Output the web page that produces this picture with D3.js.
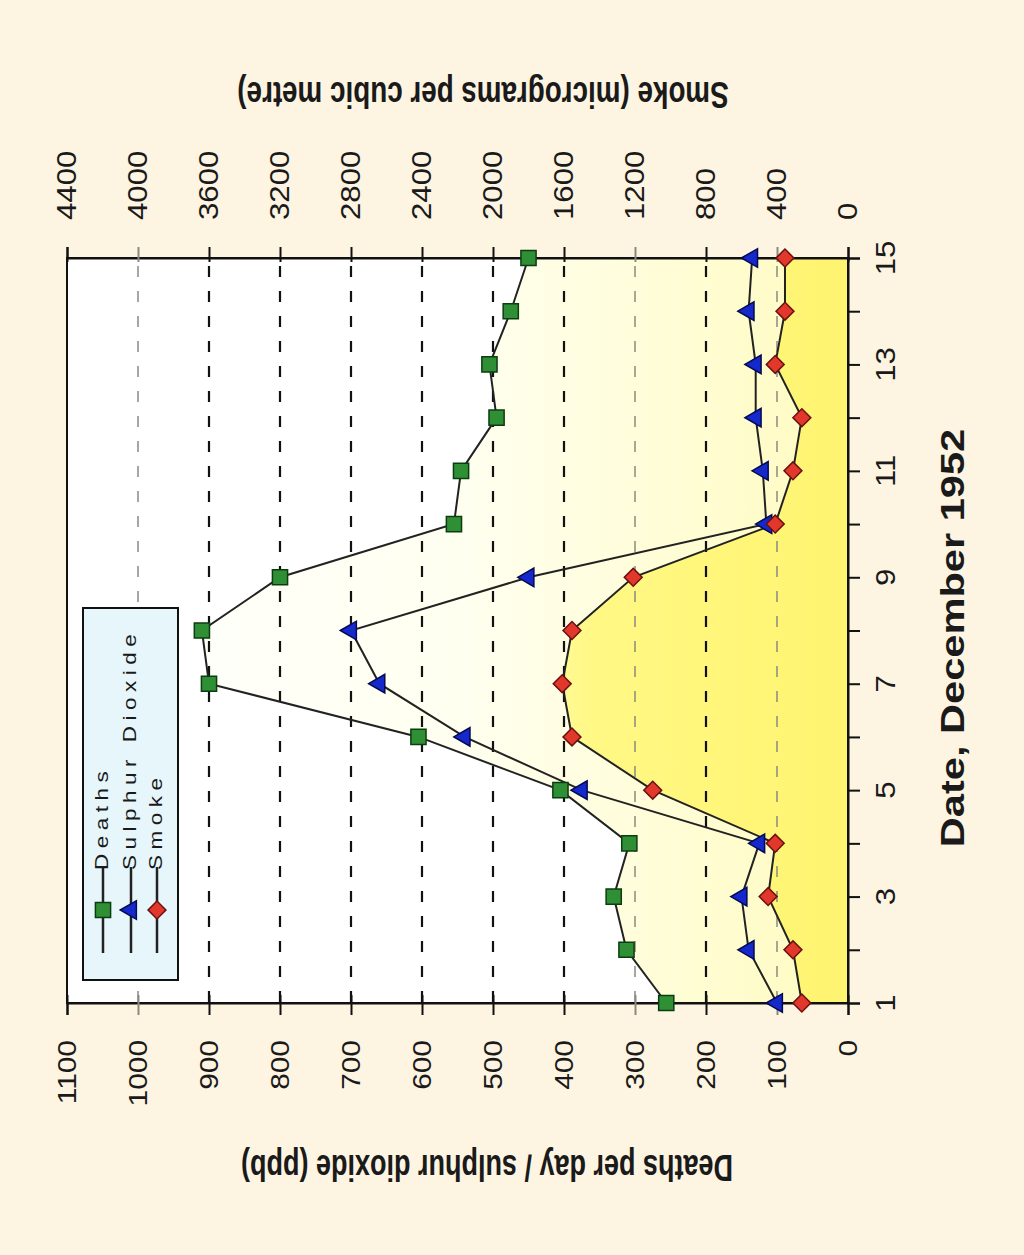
<!DOCTYPE html>
<html><head><meta charset="utf-8">
<script src="https://cdn.jsdelivr.net/npm/d3@7"></script>
<style>html,body{margin:0;padding:0;background:#fdf5e2;} svg{display:block;}</style>
</head><body>
<svg id="chart" width="1024" height="1255"></svg>
<script>
// ---- data ----
const dates = [1,2,3,4,5,6,7,8,9,10,11,12,13,14,15];
const deaths = [256,312,330,308,405,605,900,910,800,555,545,495,505,475,450];
const sulphurDioxide = [100,140,150,125,375,540,660,700,450,115,120,130,130,140,135];
const smoke = [260,310,450,410,1100,1555,1610,1555,1210,410,310,260,410,355,355];
const leftTicks = [0,100,200,300,400,500,600,700,800,900,1000,1100];
const smokeTicks = [0,400,800,1200,1600,2000,2400,2800,3200,3600,4000,4400];
const dateTickLabels = [1,3,5,7,9,11,13,15];
const seriesNames = ["Deaths","Sulphur Dioxide","Smoke"];
const leftTitle = "Deaths per day / sulphur dioxide (ppb)";
const rightTitle = "Smoke (micrograms per cubic metre)";
const dateTitle = "Date, December 1952";

// ---- layout ----
const PL = 67, PR = 848, PT = 258, PB = 1003;
const svg = d3.select("#chart");
const FONT = "'Liberation Sans', Arial, Helvetica, sans-serif";

const yDate = d3.scaleLinear().domain([1,15]).range([PB, PT]);
const xLeft = d3.scaleLinear().domain([0,1100]).range([PR, PL]);
const xSmoke = d3.scaleLinear().domain([0,4400]).range([PR, PL]);

const defs = svg.append("defs");
const g1 = defs.append("linearGradient").attr("id","gDeaths").attr("gradientUnits","userSpaceOnUse")
  .attr("x1",PL).attr("x2",PR).attr("y1",0).attr("y2",0);
g1.append("stop").attr("offset",0).attr("stop-color","#ffffff");
g1.append("stop").attr("offset",0.5).attr("stop-color","#fffff0");
g1.append("stop").attr("offset",1).attr("stop-color","#fffbc0");
const g2 = defs.append("linearGradient").attr("id","gSmoke").attr("gradientUnits","userSpaceOnUse")
  .attr("x1",550).attr("x2",PR).attr("y1",0).attr("y2",0);
g2.append("stop").attr("offset",0).attr("stop-color","#fffa98");
g2.append("stop").attr("offset",0.15).attr("stop-color","#fff884");
g2.append("stop").attr("offset",1).attr("stop-color","#fff470");

// plot background
svg.append("rect").attr("x",PL).attr("y",PT).attr("width",PR-PL).attr("height",PB-PT).attr("fill","#ffffff");

// areas
const deathsArea = d3.area().y(d=>yDate(d[0])).x0(xLeft(0)).x1(d=>xLeft(d[1]));
svg.append("path").datum(dates.map((d,i)=>[d,deaths[i]])).attr("d",deathsArea).attr("fill","url(#gDeaths)");
const smokeArea = d3.area().y(d=>yDate(d[0])).x0(xSmoke(0)).x1(d=>xSmoke(d[1]));
svg.append("path").datum(dates.map((d,i)=>[d,smoke[i]])).attr("d",smokeArea).attr("fill","url(#gSmoke)");

// grid lines
const lightGrid = new Set([100,300,1000]);
svg.append("g").selectAll("line").data(leftTicks.filter(v=>v>0 && v<1100)).join("line")
  .attr("x1",d=>xLeft(d)).attr("x2",d=>xLeft(d)).attr("y1",PT+8).attr("y2",PB)
  .attr("stroke",d=>lightGrid.has(d)?"#8a8a80":"#111")
  .attr("stroke-width",d=>lightGrid.has(d)?1.5:2.2)
  .attr("stroke-dasharray","11,14");

// frame
svg.append("rect").attr("x",PL).attr("y",PT).attr("width",PR-PL).attr("height",PB-PT)
  .attr("fill","none").attr("stroke","#111").attr("stroke-width",2);

// axes (tick marks)
const axB = svg.append("g").attr("transform",`translate(0,${PB})`)
  .call(d3.axisBottom(xLeft).tickValues(leftTicks).tickFormat("").tickSizeOuter(0).tickSize(12));
axB.selectAll(".tick line").attr("y1",-8).attr("stroke",d=>lightGrid.has(d)?"#8a8a80":"#111").attr("stroke-width",2);
axB.select(".domain").attr("stroke","#111").attr("stroke-width",2);
const axT = svg.append("g").attr("transform",`translate(0,${PT})`)
  .call(d3.axisTop(xSmoke).tickValues(smokeTicks).tickFormat("").tickSizeOuter(0).tickSize(11));
axT.selectAll(".tick line").attr("y1",4).attr("stroke",(d)=>lightGrid.has(d/4)?"#8a8a80":"#111").attr("stroke-width",2);
axT.select(".domain").attr("stroke","#111").attr("stroke-width",2);
const axR = svg.append("g").attr("transform",`translate(${PR},0)`)
  .call(d3.axisRight(yDate).tickValues(dates).tickFormat("").tickSizeOuter(0).tickSize(12));
axR.selectAll(".tick line").attr("stroke","#111").attr("stroke-width",2);
axR.select(".domain").attr("stroke","#111").attr("stroke-width",2);

// text helper
function rtext(g, x, y, str, o) {
  return g.append("text")
    .attr("transform",`translate(${x},${y}) rotate(${o.rot}) scale(${o.sx||1},${o.sy||1})`)
    .attr("dy","0.35em").attr("text-anchor",o.anchor||"middle")
    .attr("font-family",FONT).attr("font-size",o.size)
    .attr("font-weight",o.weight||"normal")
    .attr("letter-spacing",o.ls||0)
    .attr("fill",o.fill||"#1a1a1a").text(str);
}
const labels = svg.append("g");
leftTicks.forEach(v=>rtext(labels, xLeft(v), 1040, String(v), {rot:-90, size:23, sx:1.3, sy:1.12, anchor:"end"}));
smokeTicks.forEach(v=>rtext(labels, xSmoke(v), 220, String(v), {rot:-90, size:24, sx:1.3, sy:1.12, anchor:"start"}));
dateTickLabels.forEach(v=>rtext(labels, xSmoke(0)+38, yDate(v), String(v), {rot:-90, size:24, sx:1.3, sy:1.12, anchor:"middle"}));
rtext(labels, 952, 638, dateTitle, {rot:-90, size:32, weight:"bold", sx:1.3, sy:1.05});
rtext(labels, 487, 1168, leftTitle, {rot:180, size:27, weight:"bold", sx:1.0, sy:1.4});
rtext(labels, 483, 95, rightTitle, {rot:180, size:27, weight:"bold", sx:1.03, sy:1.4});

// series
const colors = {
  deaths:{fill:"#2f8f35", stroke:"#0c3d10"},
  so2:{fill:"#1428cc", stroke:"#050a50"},
  smoke:{fill:"#e2382c", stroke:"#6a1010"}
};
const line = d3.line().y(d=>yDate(d[0]));
const lineStyle = p=>p.attr("fill","none").attr("stroke","#222").attr("stroke-width",2);
svg.append("path").datum(dates.map((d,i)=>[d,deaths[i]])).attr("d",line.x(d=>xLeft(d[1]))).call(lineStyle);
svg.append("path").datum(dates.map((d,i)=>[d,sulphurDioxide[i]])).attr("d",line.x(d=>xLeft(d[1]))).call(lineStyle);
svg.append("path").datum(dates.map((d,i)=>[d,smoke[i]])).attr("d",line.x(d=>xSmoke(d[1]))).call(lineStyle);

const sq = d3.symbol().type(d3.symbolSquare).size(230)();
const tri = d3.symbol().type(d3.symbolTriangle).size(150)();
const dia = d3.symbol().type(d3.symbolSquare).size(160)();
function markers(vals, xs, shape, rot, c) {
  svg.append("g").selectAll("path").data(vals).join("path")
    .attr("transform",(v,i)=>`translate(${xs(v)},${yDate(dates[i])}) rotate(${rot})`)
    .attr("d",shape).attr("fill",c.fill).attr("stroke",c.stroke).attr("stroke-width",1.5);
}
markers(deaths, xLeft, sq, 0, colors.deaths);
markers(sulphurDioxide, xLeft, tri, -90, colors.so2);
markers(smoke, xSmoke, dia, 45, colors.smoke);

// legend
const lg = svg.append("g");
lg.append("rect").attr("x",83).attr("y",608).attr("width",95).attr("height",372)
  .attr("fill","#e6f6fb").attr("stroke","#111").attr("stroke-width",2);
const legendX = [103,131,157];
const legendShapes = [[sq,0,colors.deaths],[tri,-90,colors.so2],[dia,45,colors.smoke]];
seriesNames.forEach((name,i)=>{
  const x = legendX[i];
  lg.append("line").attr("x1",x).attr("x2",x).attr("y1",953).attr("y2",867).attr("stroke","#222").attr("stroke-width",2.5);
  lg.append("path").attr("transform",`translate(${x},910) rotate(${legendShapes[i][1]})`).attr("d",legendShapes[i][0])
    .attr("fill",legendShapes[i][2].fill).attr("stroke",legendShapes[i][2].stroke).attr("stroke-width",1.5);
  rtext(lg, x-2, 870, name, {rot:-90, size:18, sx:1.25, sy:1.05, anchor:"start", ls:4.4});
});
</script>
</body></html>
